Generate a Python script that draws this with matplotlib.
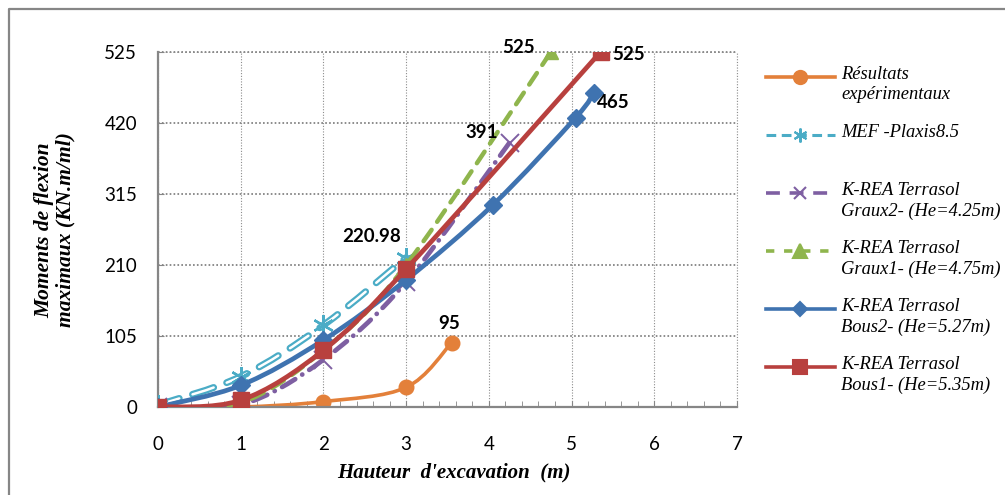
import numpy as np
import matplotlib
matplotlib.use("Agg")
import matplotlib.pyplot as plt
from matplotlib.path import Path
from matplotlib.patches import PathPatch
from matplotlib.lines import Line2D
from matplotlib.ticker import MultipleLocator

plt.rcParams['lines.scale_dashes'] = False

# data
exp_x = [0, 1, 2, 3, 3.55]
exp_y = [0, 0, 8, 29, 95]
mef_x = [0, 1, 2, 3]
mef_y = [3, 45, 121, 220.98]
graux2_x = [0, 1, 2, 3, 4.25]
graux2_y = [0, 3, 70, 185, 391]
graux1_x = [0, 1, 2, 3, 4.75]
graux1_y = [0, 6, 84, 210, 525]
bous2_x = [0, 1, 2, 3, 4.05, 5.05, 5.27]
bous2_y = [0, 32, 99, 188, 299, 428, 465]
bous1_x = [0, 1, 2, 3, 5.35]
bous1_y = [0, 10, 84, 204, 525]

labels = ["Résultats\nexpérimentaux", "MEF -Plaxis8.5",
          "K-REA Terrasol\nGraux2- (He=4.25m)", "K-REA Terrasol\nGraux1- (He=4.75m)",
          "K-REA Terrasol\nBous2- (He=5.27m)", "K-REA Terrasol\nBous1- (He=5.35m)"]

W, H = 1005, 495
fig = plt.figure(figsize=(W / 100, H / 100), dpi=100)


def fx(px):
    return px / W


def fy(py):
    return 1 - py / H


ax = fig.add_axes([fx(158), fy(407), fx(737) - fx(158), fy(52) - fy(407)])
ax.set_xlim(0, 7)
ax.set_ylim(0, 525)
ax.set_xticks(range(8))
ax.set_yticks([0, 105, 210, 315, 420, 525])
ax.xaxis.set_minor_locator(MultipleLocator(0.2))

grid = '#8c8c8c'
ax.grid(axis='y', color=grid, linestyle=(0, (1.2, 1.6)), linewidth=1.4)
ax.grid(axis='x', color=grid, linestyle=(0, (0.8, 1.2)), linewidth=0.8)
ax.set_axisbelow(True)
for s in ['top', 'right']:
    ax.spines[s].set_visible(False)
for s in ['left', 'bottom']:
    ax.spines[s].set_color('#868686')
    ax.spines[s].set_linewidth(1.6)
ax.tick_params(axis='both', which='major', direction='in', length=4, color='#868686',
               labelsize=13.5)
ax.tick_params(axis='x', which='minor', direction='in', length=4, color='#868686')
ax.tick_params(axis='x', pad=21)
ax.tick_params(axis='y', pad=15)
for t in ax.get_xticklabels() + ax.get_yticklabels():
    t.set_family(['Lato', 'DejaVu Sans'])

# top and right boundaries are dotted gridlines in the reference
ax.axhline(525, color=grid, linestyle=(0, (1.2, 1.6)), linewidth=1.4, zorder=0.5, clip_on=False)
ax.axvline(7, color=grid, linestyle=(0, (0.8, 1.2)), linewidth=0.8, zorder=0.5, clip_on=False)


def smooth(ax, xs, ys, **kw):
    pts = np.column_stack([xs, ys]).astype(float)
    ext = np.vstack([pts[0], pts, pts[-1]])
    verts = [pts[0]]
    codes = [Path.MOVETO]
    for i in range(len(pts) - 1):
        p0, p1, p2, p3 = ext[i], ext[i + 1], ext[i + 2], ext[i + 3]
        verts += [p1 + (p2 - p0) / 6, p2 - (p3 - p1) / 6, p2]
        codes += [Path.CURVE4] * 3
    patch = PathPatch(Path(verts, codes), fill=False, **kw)
    ax.add_patch(patch)
    return patch


c_exp = '#E3803A'
c_mef = '#4BACC6'
c_g2 = '#7E5FA2'
c_g1 = '#8FB54D'
c_b2 = '#3F73B0'
c_b1 = '#B8403E'

# experimental
smooth(ax, exp_x, exp_y, edgecolor=c_exp, linewidth=2.6, zorder=2, capstyle='round')
ax.plot(exp_x, exp_y, 'o', color=c_exp, markersize=10.5, zorder=2.1)

# MEF (compound line: cyan outline, white core)
smooth(ax, mef_x, mef_y, edgecolor=c_mef, linewidth=5, linestyle=(0, (16, 10)),
       capstyle='round', zorder=3)
smooth(ax, mef_x, mef_y, edgecolor='white', linewidth=1.8, linestyle=(0, (16, 10)),
       capstyle='round', zorder=3.05)
ax.plot(mef_x, mef_y, linestyle='none', marker=(6, 2, 0), color=c_mef, markersize=15,
        markeredgewidth=1.7, zorder=3.1)

# Graux2
smooth(ax, graux2_x, graux2_y, edgecolor=c_g2, linewidth=3.4, linestyle=(0, (11, 6, 0.1, 6)),
       capstyle='round', zorder=4)
ax.plot(graux2_x, graux2_y, linestyle='none', marker='x', color=c_g2, markersize=13,
        markeredgewidth=1.4, zorder=4.1)

# Graux1
smooth(ax, graux1_x, graux1_y, edgecolor=c_g1, linewidth=3.2, linestyle=(0, (10, 7)),
       capstyle='round', zorder=5)
ax.plot(graux1_x, graux1_y, linestyle='none', marker='^', color=c_g1, markersize=10.5,
        zorder=5.1)

# Bous2
smooth(ax, bous2_x, bous2_y, edgecolor=c_b2, linewidth=3.4, zorder=6)
ax.plot(bous2_x, bous2_y, linestyle='none', marker='D', color=c_b2, markersize=9,
        zorder=6.1)

# Bous1
smooth(ax, bous1_x, bous1_y, edgecolor=c_b1, linewidth=3.4, zorder=7)
ax.plot(bous1_x, bous1_y, linestyle='none', marker='s', color=c_b1, markersize=11,
        zorder=7.1)

# data labels
lab_kw = dict(textcoords='offset points', fontsize=13.5, fontweight='bold',
              family=['Lato', 'DejaVu Sans'], ha='center', va='center', zorder=10)
ax.annotate("95", (exp_x[-1], exp_y[-1]), xytext=(-2, 14), **lab_kw)
ax.annotate("220.98", (mef_x[-1], mef_y[-1]), xytext=(-25, 15), **lab_kw)
ax.annotate("391", (graux2_x[-1], graux2_y[-1]), xytext=(-20, 7), **lab_kw)
ax.annotate("525", (graux1_x[-1], graux1_y[-1]), xytext=(-23, 3), **lab_kw)
ax.annotate("525", (bous1_x[-1], bous1_y[-1]), xytext=(20, -2), **lab_kw)
ax.annotate("465", (bous2_x[-1], bous2_y[-1]), xytext=(14, -7), **lab_kw)

# axis titles
serif = ['Liberation Serif', 'DejaVu Serif']
fig.text(fx(454), fy(472), "Hauteur  d'excavation  (m)", ha='center', va='center',
         fontsize=15, fontweight='bold', style='italic', family=serif)
fig.text(fx(55), fy(230), "Moments de flexion\nmaximaux (KN.m/ml)", ha='center', va='center',
         rotation=90, fontsize=15.5, fontweight='bold', style='italic', family=serif,
         linespacing=1.05)

# legend drawn by hand (handles aligned with first text line)
leg_y = [77, 135, 193, 251, 309, 367]
styles = [
    dict(color=c_exp, lw=2.6, ls='-', marker='o', ms=9.5),
    dict(color=c_mef, lw=2.2, ls=(0, (7, 4)), marker=(6, 2, 0), ms=10),
    dict(color=c_g2, lw=2.6, ls=(0, (10, 7)), marker='x', ms=9),
    dict(color=c_g1, lw=2.6, ls=(0, (6, 7)), marker='^', ms=9.5),
    dict(color=c_b2, lw=2.6, ls='-', marker='D', ms=7.5),
    dict(color=c_b1, lw=2.6, ls='-', marker='s', ms=9.5),
]
for yy, st, lab in zip(leg_y, styles, labels):
    fig.add_artist(Line2D([fx(766), fx(835)], [fy(yy), fy(yy)], transform=fig.transFigure,
                          color=st['color'], linewidth=st['lw'], linestyle=st['ls']))
    fig.add_artist(Line2D([fx(800)], [fy(yy)], transform=fig.transFigure,
                          color=st['color'], marker=st['marker'], markersize=st['ms'],
                          markeredgewidth=1.5, linestyle='none'))
    fig.text(fx(841), fy(yy - 11), lab, ha='left', va='top', fontsize=13.3, style='italic',
             family=serif, linespacing=1.25)

# outer chart border (only left and top fall inside the picture)
fig.add_artist(Line2D([fx(8.5), fx(8.5), fx(1010)], [fy(500), fy(8.5), fy(8.5)],
                      transform=fig.transFigure, color='#868686', linewidth=1.6))

fig.savefig("out.png", dpi=100)
